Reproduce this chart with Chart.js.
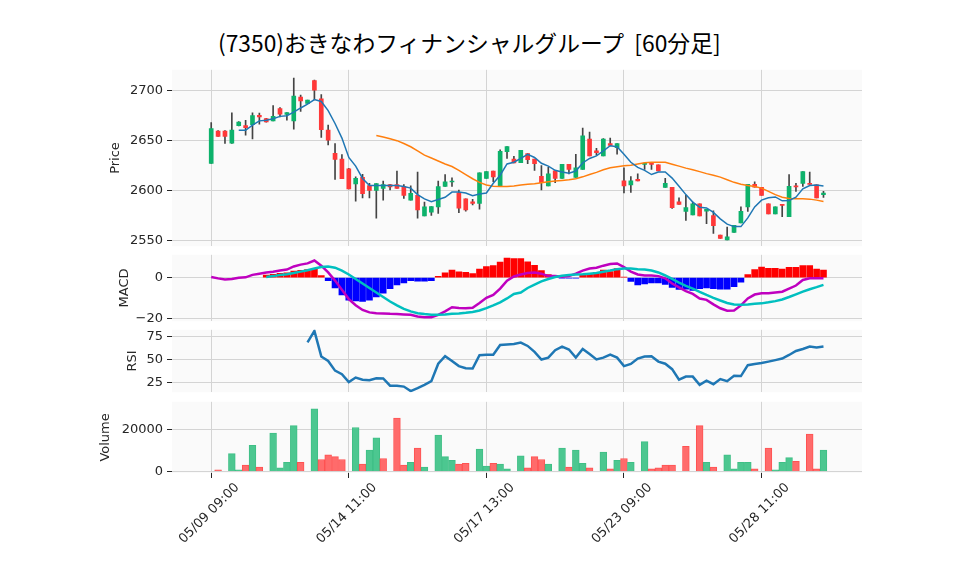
<!DOCTYPE html>
<html>
<head>
<meta charset="utf-8">
<script src="https://cdn.jsdelivr.net/npm/chart.js@4.4.1/dist/chart.umd.min.js"></script>
<style>
  body { margin: 0; background: #fff; width: 958px; height: 575px; overflow: hidden; position: relative; }
  canvas { position: absolute; left: 0; }
  #title { position: absolute; left: 218px; top: 32px; font: 22.8px/1 "Noto Sans CJK JP", sans-serif; color: #000; white-space: pre; }
</style>
</head>
<body>
<div id="title">(7350)おきなわフィナンシャルグループ  [60分足]</div>
<script>
// 60-minute bars, 05/09 09:00 .. 05/29 14:00 (90 bars)
const open = [2627,2659.5,2659.5,2647.2,2664.7,2665,2665.7,2675.1,2671.8,2669.6,
  2681.9,2676,2669.6,2693.5,2687,2710,2691.6,2660.5,2637.2,2631.4,
  2621.7,2606.5,2613,2604.9,2600,2602,2605.8,2605.8,2603.9,2590.3,
  2595.1,2574.4,2578.3,2583.5,2603.9,2608.4,2597.7,2591.6,2588.7,2587,
  2612,2619.4,2604.5,2638.8,2631.4,2627.8,2636.9,2631.4,2614.2,2604.5,
  2619.7,2612,2626.2,2613,2621,2651.5,2639.5,2634.6,2646.9,2642.7,
  2609.7,2605.5,2611,2626,2627.5,2625.6,2602.9,2603,2588.7,2579,
  2575.4,2586.7,2579.3,2574.8,2555.3,2550.5,2557.9,2567.6,2583.5,2606.1,
  2603.2,2586.7,2576.4,2586.1,2573.8,2604.5,2607.1,2607.1,2605.5,2595.8];
const high = [2668,2660,2660,2677.7,2669,2670.2,2677.7,2677.3,2672.2,2684.8,
  2682.8,2678,2712.3,2695.5,2690.5,2710.3,2696,2665.4,2646.9,2635.9,
  2622,2613.6,2616.2,2607.1,2606.8,2609.4,2606,2619.4,2605.8,2604.5,
  2618.4,2588.3,2583.8,2609.4,2615.9,2612.6,2600.3,2591.6,2591,2617.5,
  2618.8,2619.4,2640.5,2644,2634,2640.1,2636.9,2631.4,2624.9,2623,
  2619.7,2626.2,2626.2,2636.2,2662.5,2658.3,2642.1,2652,2652.4,2646.9,
  2622.7,2613.9,2616.5,2628,2627.5,2625.6,2612,2603,2592.6,2595.1,
  2588.3,2586.7,2581.2,2579.6,2555.3,2563.4,2565,2583.5,2606.1,2608.7,
  2603.2,2586.7,2583.5,2586.1,2615.9,2607.1,2618.8,2618.4,2605.5,2599];
const low = [2627,2654,2647,2647,2664.5,2655.3,2651.5,2666.3,2668.4,2669.6,
  2673.5,2670.2,2661.2,2679,2687,2690.6,2653,2645.6,2611,2611.7,
  2601.6,2589.3,2592.6,2592.6,2572.2,2590.3,2600.6,2602,2591.9,2590.3,
  2572.2,2574.4,2575,2577,2603.9,2603.9,2577.7,2579.3,2585.4,2581.2,
  2612,2608.7,2604.5,2632,2627.5,2627.8,2626.9,2620.1,2600.6,2604.5,
  2607.8,2612,2616.5,2613,2621,2634.6,2635.3,2634.6,2645,2636.2,
  2597.4,2598,2609.4,2621,2621,2619.4,2602.9,2582,2586.1,2570,
  2575.4,2574.4,2566.7,2556.9,2552.1,2550.5,2557.9,2567.6,2579,2603.2,
  2595.1,2576.4,2576.4,2573.8,2573.8,2599,2603.9,2606.1,2592.6,2593];
const close = [2662,2654,2654,2660.5,2668.3,2662.8,2674.8,2673.5,2668.6,2674.1,
  2676.4,2678,2694.5,2689.6,2690.3,2700.3,2660.8,2650.2,2631.1,2611.7,
  2601.6,2612,2596.8,2600,2606.8,2605.8,2603.6,2602,2595.1,2597.1,
  2580.6,2583.5,2583.8,2603.9,2608.7,2609.4,2582.2,2580.6,2587,2617.5,
  2618.8,2613.6,2639.2,2644,2627.5,2640.1,2630.7,2626.9,2607.8,2616.5,
  2612,2626.2,2621,2622.7,2654.7,2634.6,2637.9,2651.5,2645,2646.9,
  2604.5,2609.7,2609.4,2627,2626,2619.4,2607.1,2582.8,2586.1,2582.8,
  2586.7,2574.4,2581.2,2564.7,2552.1,2553.7,2565,2579,2606.1,2603.2,
  2595.1,2576.4,2583.5,2585.1,2604.2,2603.6,2618.8,2606.1,2592.6,2597.4];
const volume = [0,800,0,8500,800,3000,12500,2100,0,18300,
  1650,4350,21900,4350,0,30000,5700,7950,7050,5700,
  0,21000,3450,10200,16050,6150,0,25500,3000,4350,
  11100,2100,0,17400,7050,5250,3450,3900,0,10650,
  2550,3900,3450,1200,0,7500,1650,7050,5700,3450,
  0,11100,2100,10200,3900,1650,0,9300,1200,5250,
  6150,4350,0,14250,1200,1650,3000,3000,0,12000,
  0,21900,4350,2100,0,7950,1200,4350,4350,1200,
  0,11100,750,4350,6600,4800,0,17850,1200,10200];
const ma5 = [null,null,null,null,2660.2,2660.2,2665.4,2669.6,2670.2,2671.8,
  2674.1,2674.8,2678.3,2682.5,2686.4,2690.9,2689,2679.9,2667,2652.4,
  2633,2624.3,2612,2604.9,2604.9,2604.9,2604.9,2604.9,2603.9,2602.3,
  2595.8,2591.6,2588.7,2590.9,2593.2,2598.4,2598.4,2597.4,2594.8,2596.4,
  2597.4,2607.1,2615.2,2626.5,2628.2,2632,2636.2,2633,2627.2,2624.3,
  2620.1,2618.4,2617.2,2619.4,2627.5,2632,2634.6,2639.5,2644.7,2643.7,
  2636.2,2628.2,2623,2620.1,2615.9,2618.4,2618.4,2612.3,2604.2,2595.8,
  2588.3,2583.2,2582.5,2578,2571.5,2566.3,2563.8,2563.8,2572.5,2583.5,
  2590.3,2592.6,2593.5,2589.6,2590,2593.2,2601.6,2604.9,2605.5,2604.5];
const ma25 = [null,null,null,null,null,null,null,null,null,null,
  null,null,null,null,null,null,null,null,null,null,
  null,null,null,null,2655,2653.4,2651.8,2649.8,2646.9,2643.7,
  2639.5,2635.3,2632.4,2629.4,2626.5,2623.9,2620.1,2615.9,2611.7,2608.1,
  2605.5,2604.2,2603.9,2603.9,2604.5,2605.5,2606.1,2606.8,2607.8,2608.7,
  2609.4,2610,2610.7,2611.7,2613.6,2615.9,2618.1,2620.7,2622.7,2623.6,
  2624.6,2625.2,2626.5,2627.8,2628.2,2628.2,2628.2,2626.2,2624.3,2622.3,
  2620.7,2618.8,2616.8,2615.2,2613.3,2610.7,2608.1,2606.1,2604.9,2603.9,
  2602.3,2599,2595.8,2593.2,2591.9,2591.6,2591.6,2591.3,2590.3,2589];
const macd = [0.3,-0.4,-1,-0.7,-0.1,0.1,1.3,1.9,2.5,2.8,
  3.4,3.9,5.4,6.3,6.9,8.3,5.8,2.5,-1.5,-6,
  -10.5,-13.5,-15.8,-17,-17.4,-17.5,-17.7,-17.8,-18,-18.2,
  -19,-19.4,-19.4,-18.2,-16.5,-14.5,-14.9,-15,-14.7,-12.4,
  -9.9,-8.5,-5.4,-1.5,0.5,1.5,2.2,2.5,1.9,0.7,
  0.7,0.4,0.7,1.9,3.4,4.4,4.8,5.8,6.6,6.9,
  5.1,2.9,1.5,1,1,0.7,-0.4,-2.9,-4.8,-6.6,
  -8,-10.2,-10.9,-13.1,-15,-16.2,-16.1,-13.6,-10.2,-8.3,
  -7.7,-7.7,-7.3,-6.9,-5.4,-3.9,-1.2,-0.4,-0.4,-0.4];
const signal = [null,null,null,null,null,null,null,null,0.3,0.7,
  1.2,1.6,2.2,2.9,3.6,4.4,5.1,5.4,4.8,3.4,
  1.5,-0.7,-2.9,-5.1,-7.3,-9.5,-11.7,-13.6,-15.3,-16.5,
  -17.4,-17.8,-18.1,-18.1,-18,-17.7,-17.5,-17.2,-16.8,-16.1,
  -14.9,-13.6,-12.1,-10.2,-8,-7.3,-5.1,-3.4,-1.9,-0.7,
  0.3,0.9,1.3,1.5,1.6,1.9,2.2,2.8,3.4,4.1,
  4.4,4.4,4.1,3.9,3.4,2.5,1,-0.7,-2.5,-4.1,
  -5.4,-7,-8.5,-9.9,-11.2,-12.4,-13.1,-13.3,-13.1,-12.8,
  -12.6,-12.1,-11.5,-10.7,-9.5,-8.2,-6.9,-5.7,-4.7,-3.6];
const hist = [null,null,null,null,null,null,null,null,1.2,1.6,
  2,2.3,3.1,3.5,3.9,4.2,1,-1.5,-5.1,-8.5,
  -11,-11.4,-11.7,-11,-9.5,-7.6,-5.4,-3.6,-2.6,-1.5,
  -1.8,-1.8,-1.5,0.6,2.3,3.6,2.8,2.5,1.9,4.1,
  5.4,5.8,7.6,9.5,9.2,9.2,7.7,6,3.4,1.5,
  0.4,-0.2,-0.3,-0.3,1.5,1.9,2.5,3.6,2.9,4.4,
  0.2,-1.9,-3.6,-3.1,-2.6,-2.6,-3.4,-4.8,-5.8,-5.7,
  -6.3,-5.4,-5.1,-5.4,-5.7,-5.7,-4.4,-2.3,1.5,3.9,
  5.1,4.5,4.5,4.1,5,5,5.8,5.8,4.1,3.6];
const rsi = [null,null,null,null,null,null,null,null,null,null,
  null,null,null,null,68.6,81,53.3,48.4,37.9,34,
  25.5,30.4,28.1,27.5,29.7,29.4,21.6,21.6,20.6,15.7,
  19,22.5,26.5,45.4,53.6,48.4,42.8,40.5,40.2,54.6,
  55.2,55.2,65.7,66.3,66.7,68.3,64.7,58.2,50,52,
  60.1,64,60.8,52,61.4,55.9,50,52,55.2,52,
  42.8,45.1,51,53.3,53.6,47.7,45.4,39.5,28.1,31.4,
  31.4,22.5,27.1,23.2,28.8,26.5,32.4,32,43.8,45.1,
  46.1,47.7,49.3,51,54.9,59.2,61.4,64,63,64];
const tickIdx = [0, 20, 40, 60, 80];
const tickLbl = ['05/09 09:00', '05/14 11:00', '05/17 13:00', '05/23 09:00', '05/28 11:00'];

const FONT = 'DejaVu Sans';
const INK = '#262626';
const GRID = '#d4d4d4';
const BG = '#fafafa';
const W = 958, AREA_L = 172, AREA_R = 862;
const X_MIN = -5.7, X_MAX = 94.6;

const idx = close.map((_, i) => i);
const pts = arr => arr.map((v, i) => ({ x: i, y: v }));
const upVol = idx.map(i => i === 0 || close[i] >= close[i - 1]);

const panelBg = {
  id: 'panelBg',
  beforeDraw(c) {
    const a = c.chartArea;
    c.ctx.save();
    c.ctx.fillStyle = BG;
    c.ctx.fillRect(a.left, a.top, a.right - a.left, a.bottom - a.top);
    c.ctx.restore();
  }
};

function xAxis(showLabels, h) {
  return {
    type: 'linear', min: X_MIN, max: X_MAX, offset: false,
    afterBuildTicks: s => { s.ticks = tickIdx.map(v => ({ value: v })); },
    afterFit: s => { s.height = h; },
    grid: { color: GRID, lineWidth: 1, offset: false, drawTicks: showLabels, tickLength: 5, tickColor: INK },
    border: { display: false },
    ticks: {
      display: showLabels, color: INK, font: { family: FONT, size: 13 },
      minRotation: 45, maxRotation: 45, autoSkip: false, labelOffset: 26, padding: 2,
      callback: v => tickLbl[tickIdx.indexOf(v)]
    }
  };
}

function yAxis(min, max, ticks, title, padLeft, fmt) {
  return {
    type: 'linear', position: 'left', min, max,
    afterBuildTicks: s => { s.ticks = ticks.map(v => ({ value: v })); },
    afterFit: s => { s.width = AREA_L - padLeft; },
    grid: { color: GRID, lineWidth: 1, tickLength: 5, tickColor: INK },
    border: { display: false },
    ticks: { color: INK, font: { family: FONT, size: 13 }, padding: 4, callback: fmt || (v => String(v)) },
    title: { display: true, text: title, color: INK, font: { family: FONT, size: 13 }, padding: { top: 4, bottom: 4 } }
  };
}

function panel(p) {
  const cv = document.createElement('canvas');
  cv.width = W; cv.height = p.height;
  cv.style.top = p.top + 'px';
  document.body.appendChild(cv);
  const labels = !!p.labels;
  const xh = labels ? p.top + p.height - p.areaBottom : 0;
  new Chart(cv, {
    type: 'bar',
    data: { datasets: p.datasets },
    options: {
      responsive: false, animation: false, devicePixelRatio: 1,
      layout: { padding: { left: p.padLeft, right: W - AREA_R, top: p.areaTop - p.top, bottom: labels ? 0 : p.top + p.height - p.areaBottom } },
      plugins: { legend: { display: false }, tooltip: { enabled: false } },
      scales: { x: xAxis(labels, xh), y: yAxis(p.min, p.max, p.ticks, p.title, p.padLeft, p.fmt) }
    },
    plugins: [panelBg]
  });
}

const line = (arr, color, width, order) => ({
  type: 'line', data: pts(arr), borderColor: color, borderWidth: width,
  pointRadius: 0, fill: false, order
});

// Price
panel({
  top: 58, height: 200, areaTop: 68, areaBottom: 249, padLeft: 104,
  min: 2544.2, max: 2720.7, ticks: [2550, 2600, 2650, 2700], title: 'Price',
  datasets: [
    { type: 'bar', data: idx.map(i => ({ x: i, y: [low[i], high[i]] })), backgroundColor: '#444',
      barThickness: 1, grouped: false, order: 4 },
    { type: 'bar', data: idx.map(i => ({ x: i, y: [open[i], close[i]] })),
      backgroundColor: idx.map(i => close[i] >= open[i] ? '#0db26b' : '#ff3838'),
      barThickness: 4, minBarLength: 1, grouped: false, order: 3 },
    line(ma25, '#ff7f0e', 1.5, 2),
    line(ma5, '#1f77b4', 1.5, 1)
  ]
});

// MACD
panel({
  top: 243, height: 90, areaTop: 251, areaBottom: 325, padLeft: 112.5,
  min: -21.3, max: 11.1, ticks: [-20, 0], title: 'MACD',
  fmt: v => v < 0 ? '\u2212' + Math.abs(v) : String(v),
  datasets: [
    { type: 'bar', data: pts(hist), backgroundColor: hist.map(v => v >= 0 ? '#ff0000' : '#0000ff'),
      barThickness: 6, grouped: false, order: 3 },
    line(macd, '#bf00bf', 2.5, 2),
    line(signal, '#00bfbf', 2.5, 1)
  ]
});

// RSI
panel({
  top: 318, height: 86, areaTop: 327, areaBottom: 396, padLeft: 121,
  min: 14.5, max: 82.2, ticks: [25, 50, 75], title: 'RSI',
  datasets: [line(rsi, '#1f77b4', 2.5, 1)]
});

// Volume
panel({
  top: 390, height: 185, areaTop: 398, areaBottom: 473, padLeft: 93.5, labels: true,
  min: -773, max: 33318, ticks: [0, 20000], title: 'Volume',
  datasets: [
    { type: 'bar', data: pts(volume),
      backgroundColor: upVol.map(u => u ? '#4cc790' : '#ff6b6b'),
      borderColor: upVol.map(u => u ? '#3fbf86' : '#ff5252'),
      borderWidth: 1, barThickness: 6.8, grouped: false, order: 1 }
  ]
});
</script>
</body>
</html>
